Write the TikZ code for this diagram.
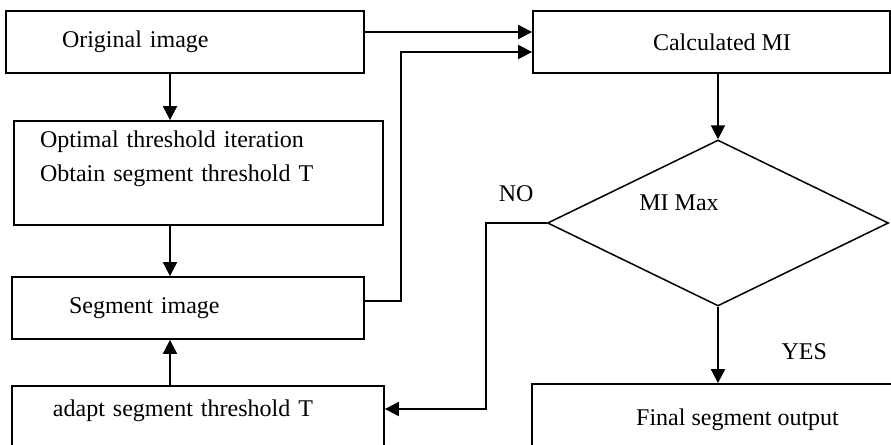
\documentclass[tikz,border=0pt]{standalone}
\usepackage{fontspec}
\setmainfont{Liberation Serif}
\usetikzlibrary{arrows.meta,shapes.geometric}

\begin{document}
\begin{tikzpicture}[
        x = 0.5pt, y = -0.5pt, % grid in half points, y runs downwards
        ->, % Arrow style
        > = {Triangle[length=7pt,width=7pt]}, % arrow head style
        line width = 1pt, % line style
        font = \fontsize{12}{17}\selectfont
      ]

      \tikzstyle{block}=[rectangle,draw=black,line width=0.9pt,align=left]
      \tikzstyle{decision}=[diamond,draw=black,line width=0.75pt,minimum width=170.5pt,minimum height=83pt,inner sep=0pt]

      \clip (0,0) rectangle (891,445);

      \node[block, inner xsep=28pt, text width=123pt, minimum height=31pt] (orig) at (185,42) {Original image};
      \node[block, inner xsep=13pt, text width=158.5pt, minimum height=52pt] (optim) at (198.5,173) {Optimal threshold iteration\\Obtain segment threshold T\\\mbox{}};
      \node[block, inner xsep=28.5pt, text width=119pt, minimum height=31pt] (seg) at (188,308) {Segment image};
      \node[block, inner xsep=20.5pt, text width=145pt, minimum height=39pt] (adapt) at (198,425) {adapt segment threshold T\\\mbox{}};
      \node[block, align=center, minimum width=178.5pt, minimum height=31pt] (calc) at (711.5,42) {\hspace*{10.5pt}Calculated MI};
      \node[decision, label={[xshift=-19.5pt,yshift=10pt]center:MI Max}] (mimax) at (718,223) {};
      \node[block, align=center, minimum width=205.5pt, minimum height=50pt] (final) at (737.5,434) {Final segment output\\\mbox{}};

      \coordinate (spine) at (170,0);

      \path (orig.south -| spine) edge (optim.north -| spine);
      \path (optim.south -| spine) edge (seg.north -| spine);
      \path (adapt.north -| spine) edge (seg.south -| spine);
      \path ([yshift=5pt]orig.east) edge ([yshift=5pt]calc.west);
      \draw ([yshift=3.5pt]seg.east) -- ++(18pt,0) |- ([yshift=-5pt]calc.west);
      \path (mimax.north |- calc.south) edge (mimax.north);
      \draw (mimax.south) -- (mimax.south |- final.north) node[pos=0.59, right=28pt] (yes) {YES};
      \draw (mimax.west) -- ++(-30.5pt,0) node[midway, above=7pt] (no) {NO} |- ([yshift=8pt]adapt.east);

    \end{tikzpicture}
\end{document}
